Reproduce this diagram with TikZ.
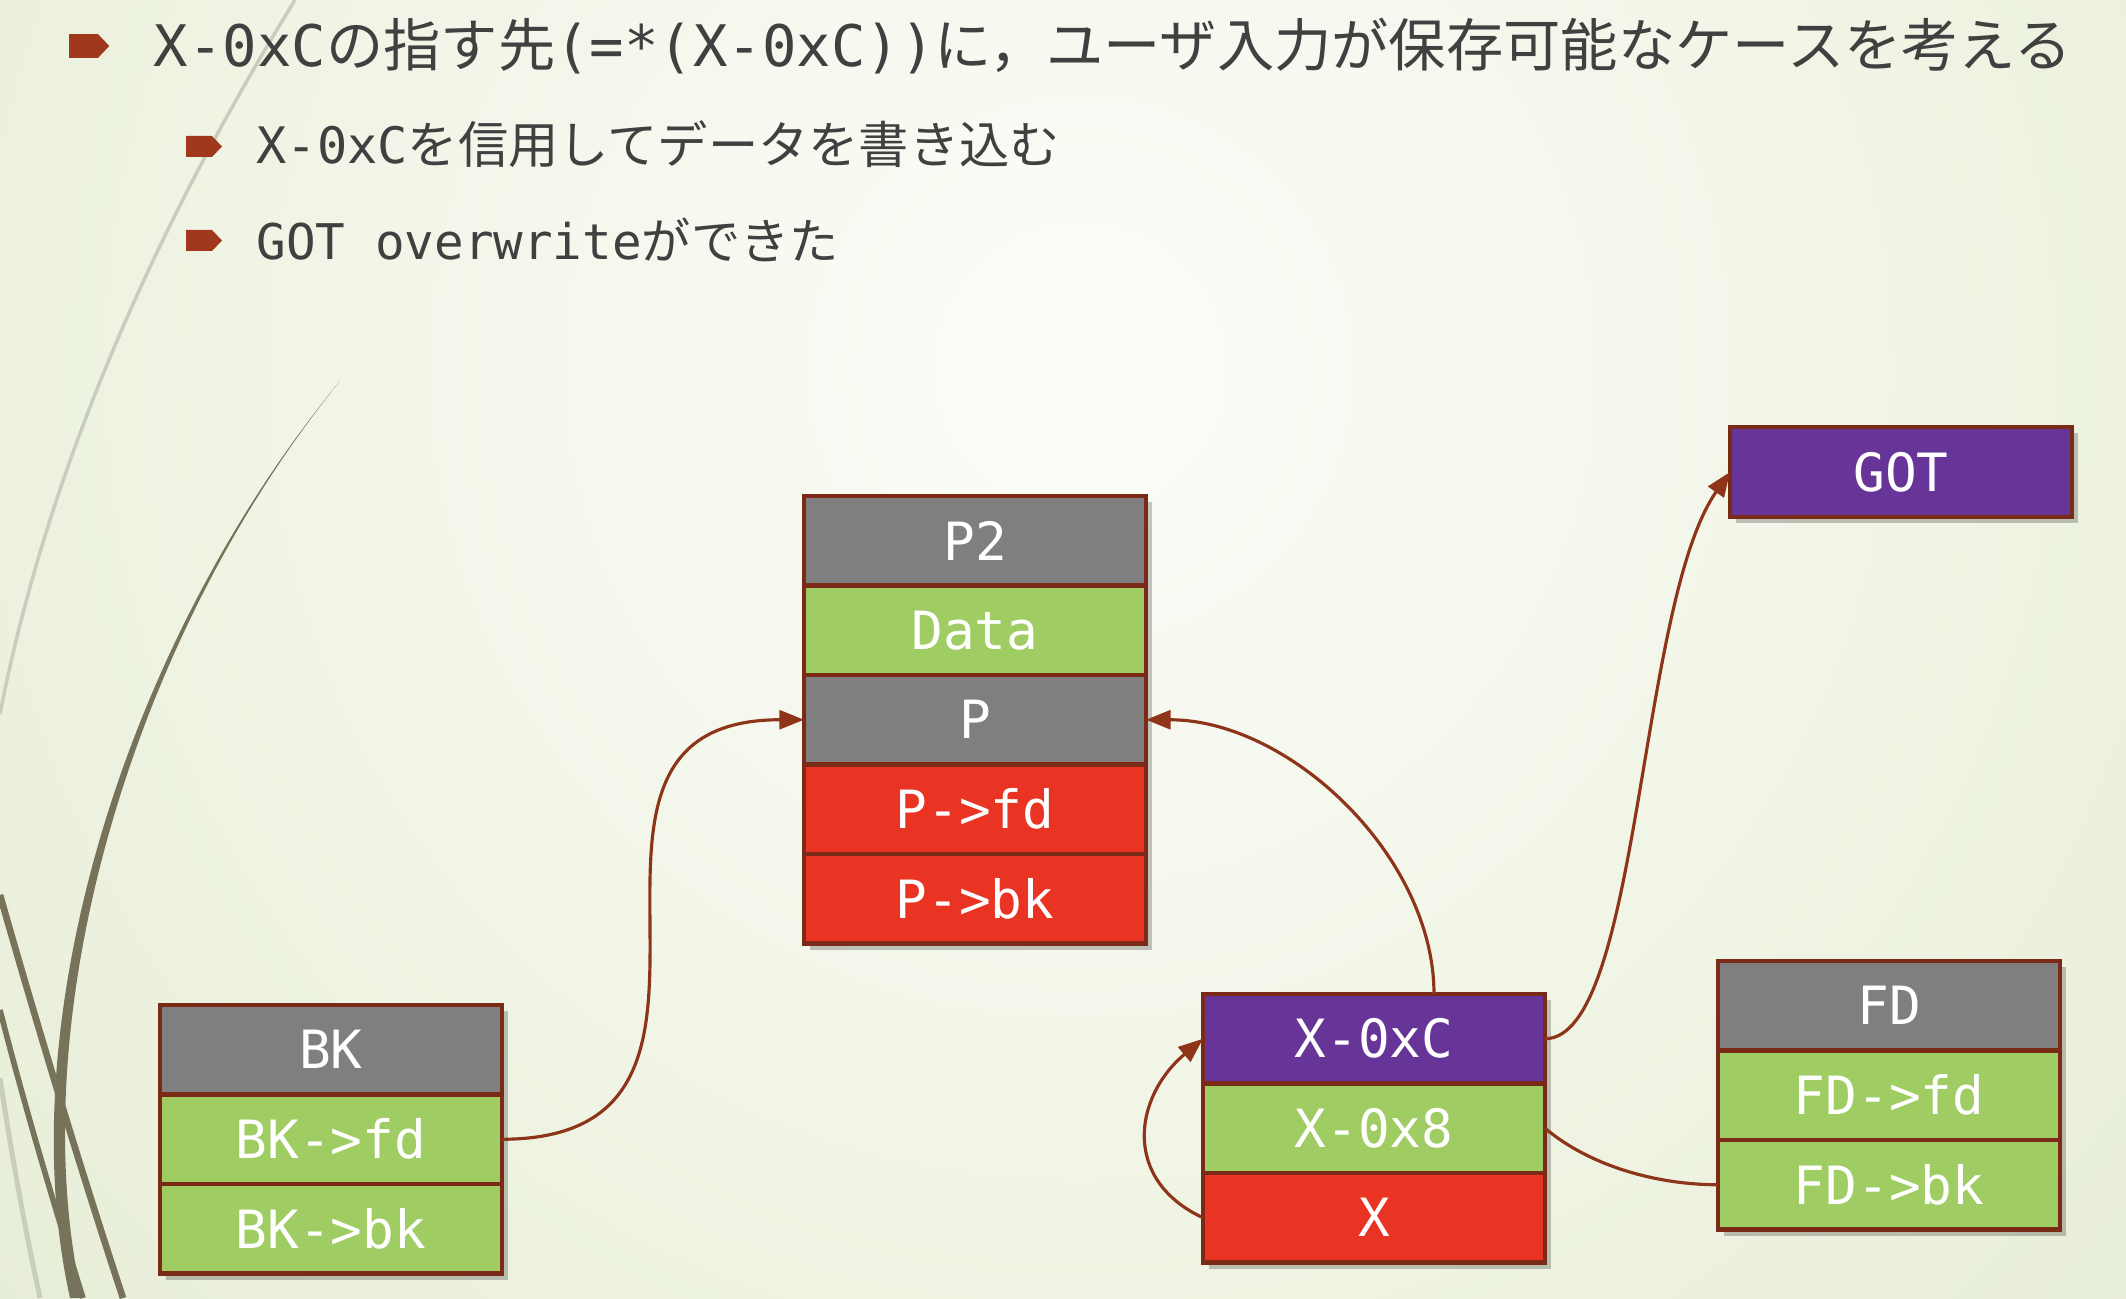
\documentclass[tikz,border=0pt]{standalone}
\usepackage{fontspec}
\setmainfont{DejaVu Sans Mono}
\newfontfamily\cjk{Noto Sans CJK JP}
\usetikzlibrary{arrows.meta, positioning, shadows}
\definecolor{bgwhite}{HTML}{FCFDF9}
\definecolor{bggreen}{HTML}{DCE6C4}
\definecolor{wisp}{HTML}{77735B}
\definecolor{wispfaint}{HTML}{C9CDBE}
\definecolor{bulletred}{HTML}{A0381B}
\definecolor{ink}{HTML}{404040}
\definecolor{rim}{HTML}{7A2A16}
\definecolor{wirebrown}{HTML}{8E3419}
\definecolor{cellgray}{HTML}{7F7F7F}
\definecolor{cellgreen}{HTML}{A0CD63}
\definecolor{cellred}{HTML}{E93323}
\definecolor{cellpurple}{HTML}{673598}

\begin{document}
\begin{tikzpicture}[
  cell/.style={draw=rim, line width=1.3pt, minimum width=3.42cm, minimum height=0.895cm,
               inner sep=0pt, outer sep=0pt, text=white,
               font=\fontsize{15pt}{18pt}\selectfont,
               drop shadow={shadow xshift=1.8pt, shadow yshift=-1.8pt, opacity=0.22, fill=black}},
  head/.style={cell, fill=cellgray},
  field/.style={cell, fill=cellgreen},
  link/.style={cell, fill=cellred},
  addr/.style={cell, fill=cellpurple},
  arrowline/.style={-{Triangle[length=7pt,width=5.4pt]}, draw=wirebrown, line width=0.9pt},
  bulletline/.style={anchor=base west, inner sep=0pt, text=ink},
  pointer/.pic={\fill[bulletred] (0,-0.105) -- (0.26,-0.105) -- (0.36,0) -- (0.26,0.105) -- (0,0.105) -- cycle;}
]
  \useasboundingbox (0,0) rectangle (21.26,12.98);

  % slide background
  \fill[bggreen] (0,0) rectangle (21.26,12.98);
  \begin{scope}
    \clip (0,0) rectangle (21.26,12.98);
    \shade[inner color=bgwhite, outer color=bggreen] (10.8,9.3) circle (22);
    \draw[wispfaint, line width=1pt] (2.95,12.98) .. controls (1.3,10.3) and (0.4,7.9) .. (0,5.84);
    \fill[wisp] (3.40,9.17) .. controls (1.2,6.5) and (0.1,2.7) .. (0.70,0)
      -- (0.82,0) .. controls (0.22,2.7) and (1.24,6.5) .. (3.40,9.17) -- cycle;
    \draw[wisp, line width=1.9pt] (0,4.03) .. controls (0.35,2.8) and (0.8,1.3) .. (1.23,0);
    \draw[wisp, line width=1.6pt] (0,2.88) .. controls (0.25,1.9) and (0.55,0.9) .. (0.83,0);
    \draw[wispfaint, line width=1.4pt] (0,2.2) .. controls (0.12,1.4) and (0.25,0.7) .. (0.40,0);
  \end{scope}

  % bullets
  \pic[scale=1.12] at (0.69,12.52) {pointer};
  \pic at (1.86,11.515) {pointer};
  \pic at (1.86,10.575) {pointer};
  \node[bulletline, font=\fontsize{16.3pt}{19pt}\selectfont] (title) at (1.53,12.31)
    {X-0xC{\cjk の指す先}(=*(X-0xC)){\cjk に，ユーザ入力が保存可能なケースを考える}};
  \node[bulletline, font=\fontsize{14.3pt}{17pt}\selectfont] (write) at (2.56,11.34)
    {X-0xC{\cjk を信用してデータを書き込む}};
  \node[bulletline, font=\fontsize{14pt}{17pt}\selectfont] (done) at (2.56,10.38)
    {GOT overwrite{\cjk ができた}};

  % chunk P2
  \node[head] (p2) at (9.75,7.5725) {P2};
  \node[field, below=0pt of p2] (data) {Data};
  \node[head, below=0pt of data] (p) {P};
  \node[link, below=0pt of p] (pfd) {P->fd};
  \node[link, below=0pt of pfd] (pbk) {P->bk};

  % chunk BK
  \node[head] (bk) at (3.31,2.4825) {BK};
  \node[field, below=0pt of bk] (bkfd) {BK->fd};
  \node[field, below=0pt of bkfd] (bkbk) {BK->bk};

  % fake chunk around X
  \node[addr] (xc) at (13.74,2.5925) {X-0xC};
  \node[field, below=0pt of xc] (x8) {X-0x8};
  \node[link, below=0pt of x8] (x) {X};

  % chunk FD
  \node[head] (fd) at (18.89,2.9225) {FD};
  \node[field, below=0pt of fd] (fdfd) {FD->fd};
  \node[field, below=0pt of fdfd] (fdbk) {FD->bk};

  \node[addr, minimum height=0.9cm] (got) at (19.01,8.26) {GOT};

  \draw[arrowline] (bkfd.east) to[out=0, in=180, looseness=1.45] (p.west);
  \draw[arrowline] ([xshift=0.6cm]xc.north) .. controls +(90:1.37) and +(0:1.44) .. (p.east);
  \draw[arrowline] (xc.east) .. controls +(0:0.95) and +(235:1.6) .. (got.west);
  \draw[arrowline, -] (x8.east) .. controls +(-40:0.6) and +(180:0.6) .. (fdbk.west);
  \draw[arrowline] (x.west) .. controls +(155:0.9) and +(220:0.9) .. (xc.west);
\end{tikzpicture}
\end{document}
